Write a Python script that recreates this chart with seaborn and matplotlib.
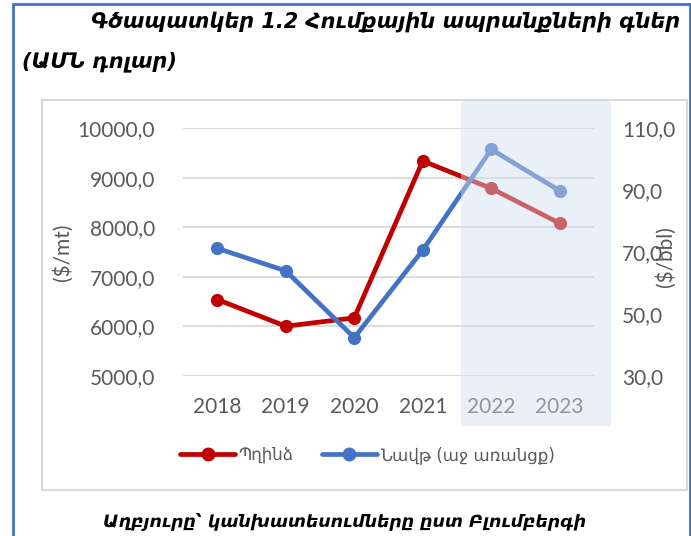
import matplotlib
matplotlib.use("Agg")
import matplotlib.pyplot as plt
from matplotlib.patches import Rectangle
from matplotlib.lines import Line2D
from matplotlib.ticker import FuncFormatter
import seaborn as sns

# data
years = [2018, 2019, 2020, 2021, 2022, 2023]
copper = [6540, 6000, 6170, 9340, 8785, 8080]   # $/mt, left axis
oil = [71.2, 63.9, 42.3, 70.6, 103.2, 89.8]     # $/bbl, right axis
copper_label = "Պղինձ"
oil_label = "Նավթ (աջ առանցք)"
title1 = "Գծապատկեր 1.2 Հումքային ապրանքների գներ"
title2 = "(ԱՄՆ դոլար)"
source = "Աղբյուրը՝ կանխատեսումները ըստ Բլումբերգի"

sns.set_style("white")
plt.rcParams["font.family"] = ["Lato", "DejaVu Sans"]

RED = "#C00000"
BLUE = "#4472C4"
GREY = "#595959"

W, H = 691, 536
fig = plt.figure(figsize=(W / 100, H / 100), dpi=100)
ax = fig.add_axes([183 / W, 1 - 375.7 / H, 411 / W, 247.4 / H])
ax2 = ax.twinx()

sns.lineplot(x=years, y=copper, ax=ax, color=RED, marker="o", markersize=9.5,
             markeredgewidth=0, linewidth=3.4)
sns.lineplot(x=years, y=oil, ax=ax2, color=BLUE, marker="o", markersize=9.5,
             markeredgewidth=0, linewidth=3.4)

ax.set_xlim(2017.5, 2023.5)
ax.set_ylim(5000, 10000)
ax2.set_ylim(30, 110)
ax.set_xticks(years)
ax.set_yticks(range(5000, 10001, 1000))
ax2.set_yticks(range(30, 111, 20))
fmt = FuncFormatter(lambda v, p: f"{v:.1f}".replace(".", ","))
ax.yaxis.set_major_formatter(fmt)
ax2.yaxis.set_major_formatter(fmt)

ax.grid(axis="y", color="#D9D9D9", linewidth=1.3)
ax.set_axisbelow(True)
for a in (ax, ax2):
    for s in a.spines.values():
        s.set_visible(False)
ax.tick_params(axis="y", length=0, pad=20, labelsize=15, labelcolor=GREY)
ax.tick_params(axis="x", length=0, pad=15, labelsize=15, labelcolor=GREY)
ax2.tick_params(axis="y", length=0, pad=20, labelsize=15, labelcolor=GREY)

ax.set_ylabel("($/mt)", fontsize=15, color=GREY)
ax.yaxis.set_label_coords(-0.268, 0.5)
ax2.set_ylabel("($/bbl)", fontsize=15, color=GREY, rotation=90)
ax2.yaxis.set_label_coords(1.148, 0.48)
ax.set_xlabel("")

# legend
handles = [Line2D([], [], color=RED, marker="o", markersize=9, linewidth=3.4),
           Line2D([], [], color=BLUE, marker="o", markersize=9, linewidth=3.4)]
fig.legend(handles, [copper_label, oil_label], loc="center", ncol=2,
           bbox_to_anchor=(0.532, 1 - 455 / H), frameon=False,
           prop={"family": "DejaVu Sans", "size": 12}, labelcolor=GREY,
           handlelength=3.3, handletextpad=0.2, columnspacing=1.7)

# forecast shading over 2022-2023
fig.add_artist(Rectangle((461 / W, 1 - 426 / H), 150 / W, 326 / H,
                         transform=fig.transFigure, facecolor=(210 / 255, 222 / 255, 240 / 255),
                         alpha=0.45, edgecolor="none", zorder=10))

# chart box and page frame
fig.add_artist(Rectangle((42 / W, 1 - 490 / H), 645 / W, 390 / H, transform=fig.transFigure,
                         facecolor="none", edgecolor="#D9D9D9", linewidth=1.5, zorder=1))
fig.add_artist(Line2D([13 / W, 13 / W], [0, 1 - 4 / H], transform=fig.transFigure, color=BLUE, linewidth=2))
fig.add_artist(Line2D([13 / W, 690 / W], [1 - 4 / H, 1 - 4 / H], transform=fig.transFigure, color=BLUE, linewidth=2))
fig.add_artist(Line2D([690 / W, 690 / W], [0, 1 - 4 / H], transform=fig.transFigure, color=BLUE, linewidth=2))

tkw = dict(family="DejaVu Sans", weight="bold", style="italic", color="black")
fig.text(680 / W, 1 - 22 / H, title1, ha="right", va="center", fontsize=15, **tkw)
fig.text(22 / W, 1 - 62 / H, title2, ha="left", va="center", fontsize=15, **tkw)
fig.text(345 / W, 1 - 521 / H, source, ha="center", va="center", fontsize=12.5, **tkw)

fig.savefig("out.png", dpi=100)
